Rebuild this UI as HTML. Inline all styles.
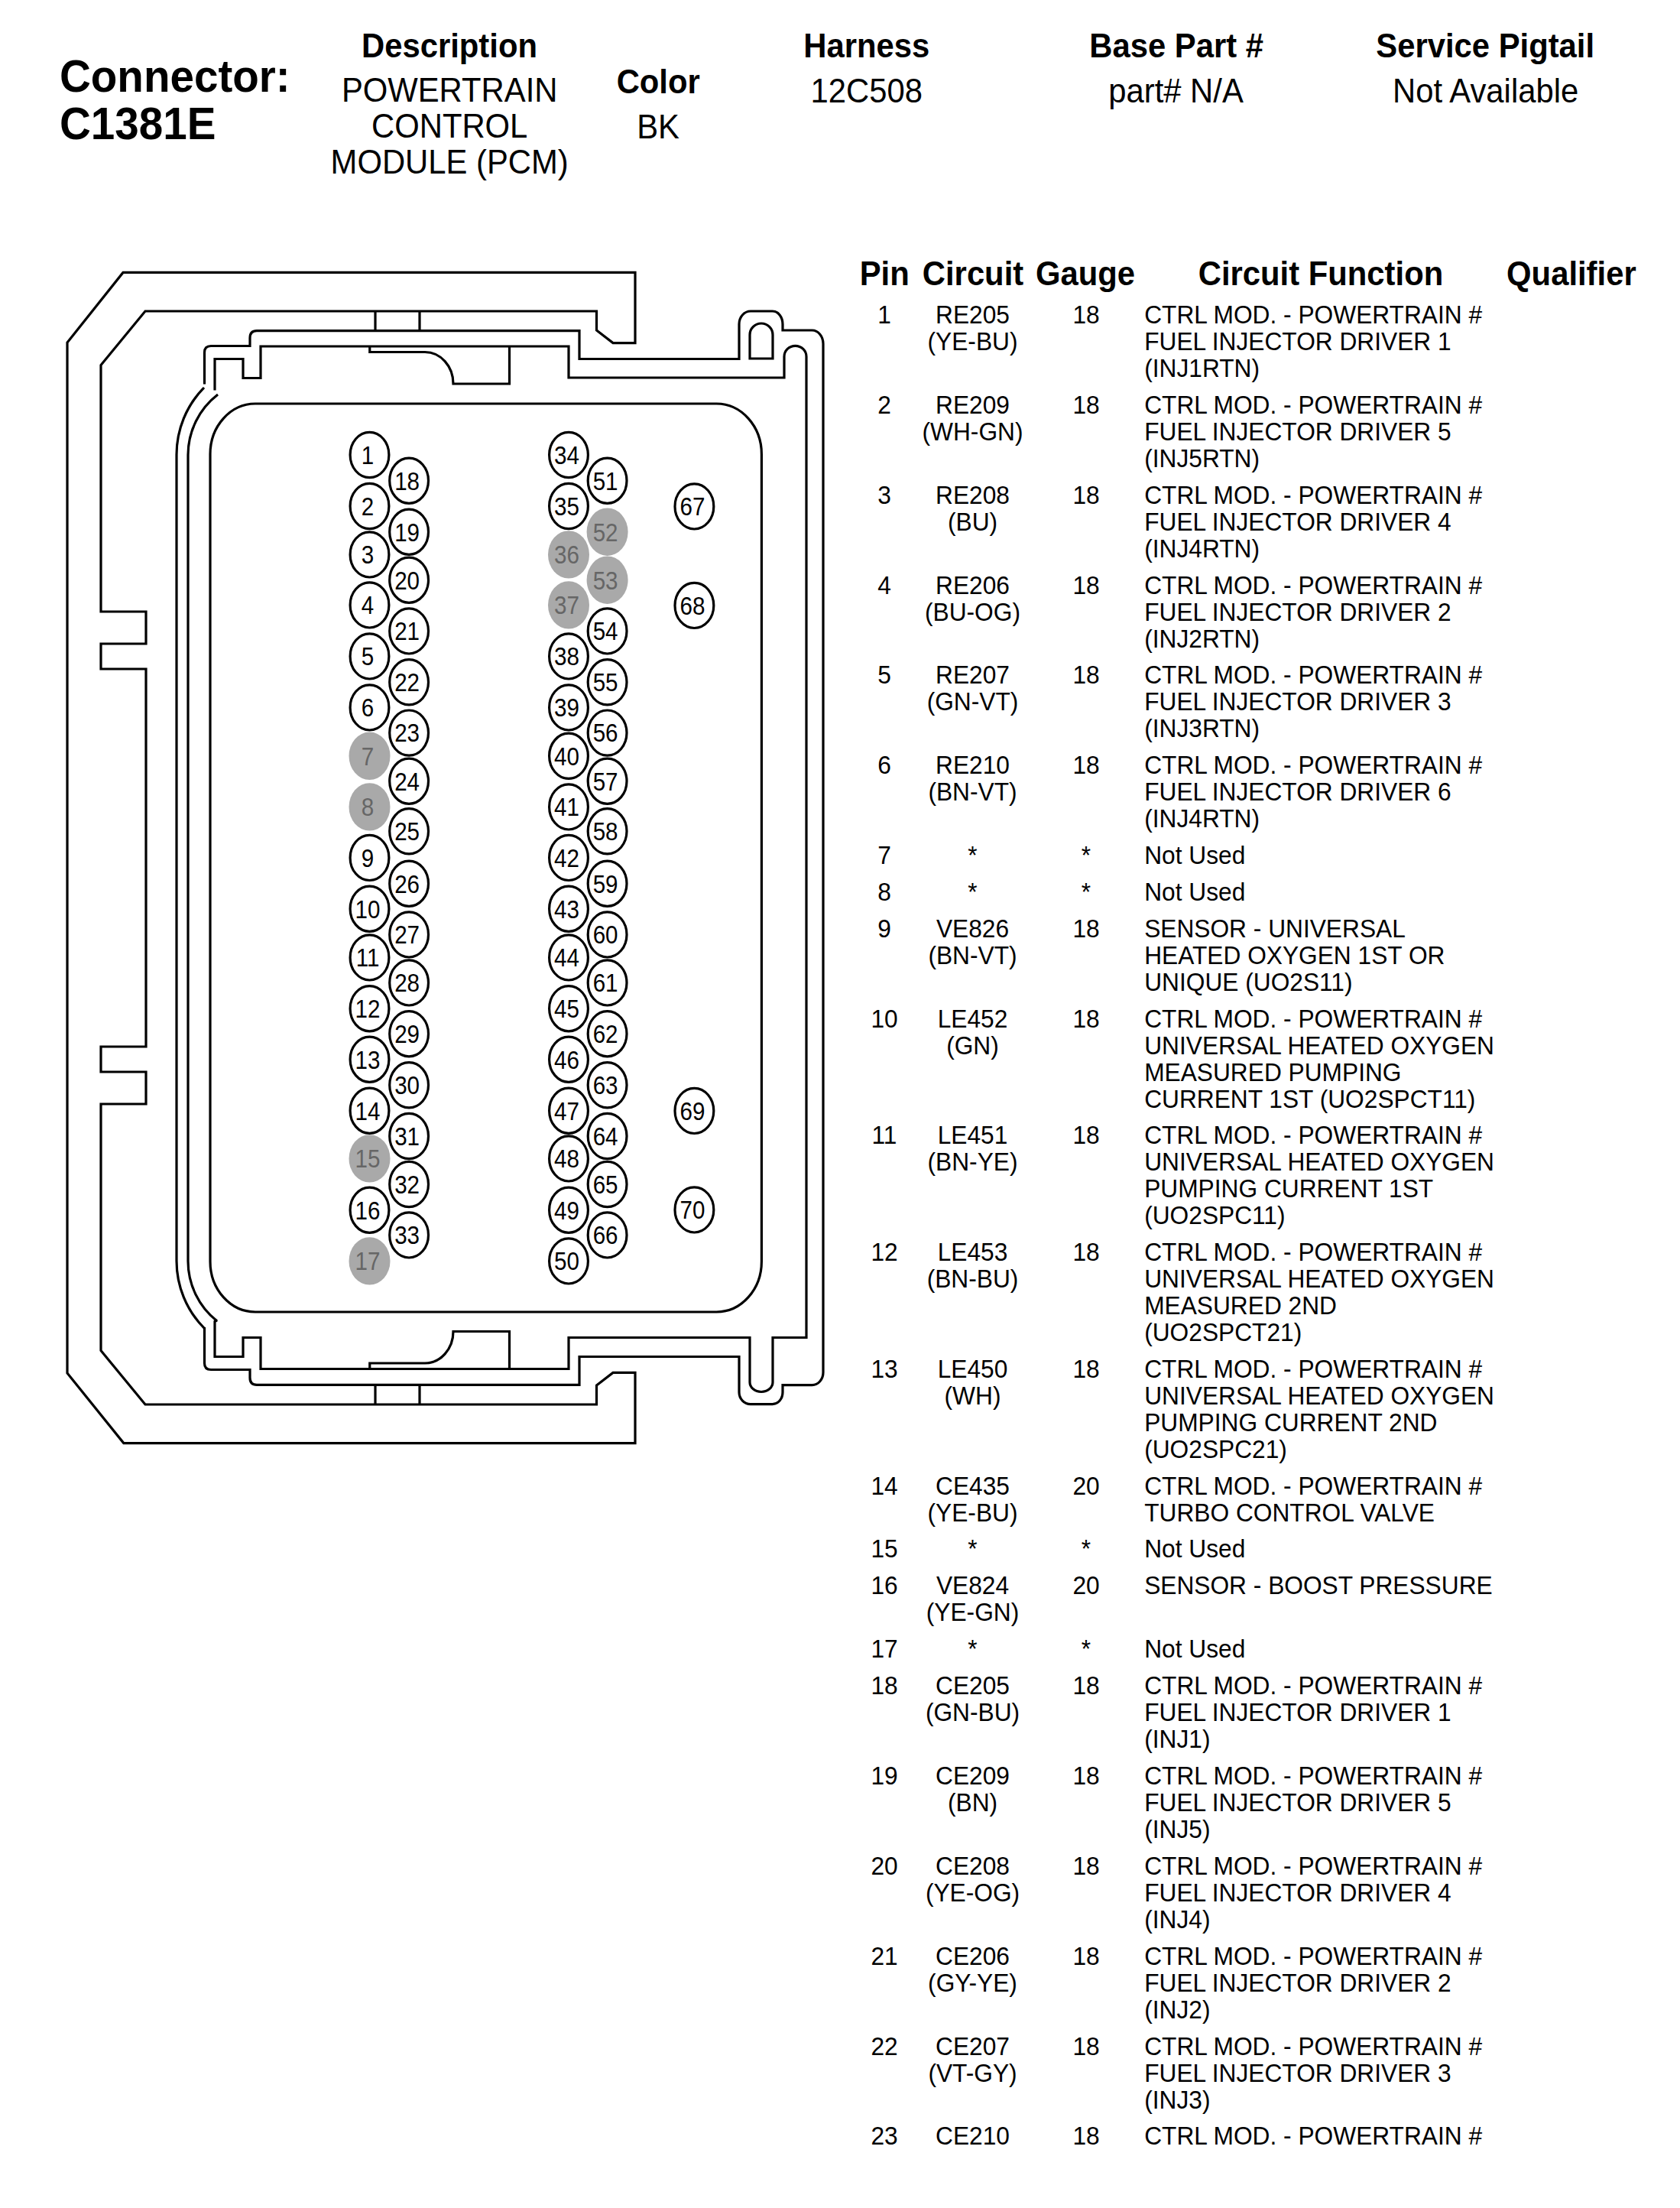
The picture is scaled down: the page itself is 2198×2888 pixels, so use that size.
<!DOCTYPE html>
<html><head><meta charset="utf-8"><title>C1381E</title>
<style>
html,body{margin:0;padding:0;background:#fff;}
body{width:2198px;height:2888px;position:relative;overflow:hidden;font-family:"Liberation Sans",sans-serif;color:#000;}
.t{position:absolute;white-space:nowrap;transform:scaleY(1.0405);transform-origin:0 0;}
.c{text-align:center;}
.b{font-weight:bold;}
svg{position:absolute;left:0;top:0;}
</style></head><body>

<div class="t b" style="left:77.9px;top:69.18px;font-size:56.6px;line-height:59.974px">Connector:<br>C1381E</div>
<div class="t c b" style="left:378.0px;top:37.85px;width:420px;font-size:41.8px;line-height:44.932px">Description</div>
<div class="t c" style="left:378.2px;top:96.45px;width:420px;font-size:41.8px;line-height:44.932px">POWERTRAIN<br>CONTROL<br>MODULE (PCM)</div>
<div class="t c b" style="left:761.2px;top:84.55px;width:200px;font-size:41.8px;line-height:44.932px">Color</div>
<div class="t c" style="left:761.1px;top:144.15px;width:200px;font-size:41.8px;line-height:44.932px">BK</div>
<div class="t c b" style="left:983.8px;top:37.95px;width:300px;font-size:41.8px;line-height:44.932px">Harness</div>
<div class="t c" style="left:983.7px;top:97.05px;width:300px;font-size:41.8px;line-height:44.932px">12C508</div>
<div class="t c b" style="left:1359.2px;top:37.95px;width:360px;font-size:41.8px;line-height:44.932px">Base Part #</div>
<div class="t c" style="left:1358.5px;top:97.05px;width:360px;font-size:41.8px;line-height:44.932px">part# N/A</div>
<div class="t c b" style="left:1743.2px;top:37.95px;width:400px;font-size:41.8px;line-height:44.932px">Service Pigtail</div>
<div class="t c" style="left:1743.6px;top:97.05px;width:400px;font-size:41.8px;line-height:44.932px">Not Available</div>
<div class="t c b" style="left:1097.2px;top:335.55px;width:120px;font-size:41.8px;line-height:44.932px">Pin</div>
<div class="t c b" style="left:1173.0px;top:335.55px;width:200px;font-size:41.8px;line-height:44.932px">Circuit</div>
<div class="t c b" style="left:1340.0px;top:335.55px;width:160px;font-size:41.8px;line-height:44.932px">Gauge</div>
<div class="t c b" style="left:1528.0px;top:335.55px;width:400px;font-size:41.8px;line-height:44.932px">Circuit Function</div>
<div class="t c b" style="left:1935.9px;top:335.55px;width:240px;font-size:41.8px;line-height:44.932px">Qualifier</div>
<div class="t c" style="left:1107.0px;top:395.12px;width:100px;font-size:31.7px;line-height:33.543px">1</div>
<div class="t c" style="left:1182.5px;top:395.12px;width:180px;font-size:31.7px;line-height:33.543px">RE205<br>(YE-BU)</div>
<div class="t c" style="left:1371.0px;top:395.12px;width:100px;font-size:31.7px;line-height:33.543px">18</div>
<div class="t" style="left:1497.2px;top:395.12px;font-size:31.7px;line-height:33.543px">CTRL MOD. - POWERTRAIN #<br>FUEL INJECTOR DRIVER 1<br>(INJ1RTN)</div>
<div class="t c" style="left:1107.0px;top:512.92px;width:100px;font-size:31.7px;line-height:33.543px">2</div>
<div class="t c" style="left:1182.5px;top:512.92px;width:180px;font-size:31.7px;line-height:33.543px">RE209<br>(WH-GN)</div>
<div class="t c" style="left:1371.0px;top:512.92px;width:100px;font-size:31.7px;line-height:33.543px">18</div>
<div class="t" style="left:1497.2px;top:512.92px;font-size:31.7px;line-height:33.543px">CTRL MOD. - POWERTRAIN #<br>FUEL INJECTOR DRIVER 5<br>(INJ5RTN)</div>
<div class="t c" style="left:1107.0px;top:630.72px;width:100px;font-size:31.7px;line-height:33.543px">3</div>
<div class="t c" style="left:1182.5px;top:630.72px;width:180px;font-size:31.7px;line-height:33.543px">RE208<br>(BU)</div>
<div class="t c" style="left:1371.0px;top:630.72px;width:100px;font-size:31.7px;line-height:33.543px">18</div>
<div class="t" style="left:1497.2px;top:630.72px;font-size:31.7px;line-height:33.543px">CTRL MOD. - POWERTRAIN #<br>FUEL INJECTOR DRIVER 4<br>(INJ4RTN)</div>
<div class="t c" style="left:1107.0px;top:748.52px;width:100px;font-size:31.7px;line-height:33.543px">4</div>
<div class="t c" style="left:1182.5px;top:748.52px;width:180px;font-size:31.7px;line-height:33.543px">RE206<br>(BU-OG)</div>
<div class="t c" style="left:1371.0px;top:748.52px;width:100px;font-size:31.7px;line-height:33.543px">18</div>
<div class="t" style="left:1497.2px;top:748.52px;font-size:31.7px;line-height:33.543px">CTRL MOD. - POWERTRAIN #<br>FUEL INJECTOR DRIVER 2<br>(INJ2RTN)</div>
<div class="t c" style="left:1107.0px;top:866.32px;width:100px;font-size:31.7px;line-height:33.543px">5</div>
<div class="t c" style="left:1182.5px;top:866.32px;width:180px;font-size:31.7px;line-height:33.543px">RE207<br>(GN-VT)</div>
<div class="t c" style="left:1371.0px;top:866.32px;width:100px;font-size:31.7px;line-height:33.543px">18</div>
<div class="t" style="left:1497.2px;top:866.32px;font-size:31.7px;line-height:33.543px">CTRL MOD. - POWERTRAIN #<br>FUEL INJECTOR DRIVER 3<br>(INJ3RTN)</div>
<div class="t c" style="left:1107.0px;top:984.12px;width:100px;font-size:31.7px;line-height:33.543px">6</div>
<div class="t c" style="left:1182.5px;top:984.12px;width:180px;font-size:31.7px;line-height:33.543px">RE210<br>(BN-VT)</div>
<div class="t c" style="left:1371.0px;top:984.12px;width:100px;font-size:31.7px;line-height:33.543px">18</div>
<div class="t" style="left:1497.2px;top:984.12px;font-size:31.7px;line-height:33.543px">CTRL MOD. - POWERTRAIN #<br>FUEL INJECTOR DRIVER 6<br>(INJ4RTN)</div>
<div class="t c" style="left:1107.0px;top:1101.92px;width:100px;font-size:31.7px;line-height:33.543px">7</div>
<div class="t c" style="left:1182.5px;top:1101.92px;width:180px;font-size:31.7px;line-height:33.543px">*</div>
<div class="t c" style="left:1371.0px;top:1101.92px;width:100px;font-size:31.7px;line-height:33.543px">*</div>
<div class="t" style="left:1497.2px;top:1101.92px;font-size:31.7px;line-height:33.543px">Not Used</div>
<div class="t c" style="left:1107.0px;top:1149.92px;width:100px;font-size:31.7px;line-height:33.543px">8</div>
<div class="t c" style="left:1182.5px;top:1149.92px;width:180px;font-size:31.7px;line-height:33.543px">*</div>
<div class="t c" style="left:1371.0px;top:1149.92px;width:100px;font-size:31.7px;line-height:33.543px">*</div>
<div class="t" style="left:1497.2px;top:1149.92px;font-size:31.7px;line-height:33.543px">Not Used</div>
<div class="t c" style="left:1107.0px;top:1197.92px;width:100px;font-size:31.7px;line-height:33.543px">9</div>
<div class="t c" style="left:1182.5px;top:1197.92px;width:180px;font-size:31.7px;line-height:33.543px">VE826<br>(BN-VT)</div>
<div class="t c" style="left:1371.0px;top:1197.92px;width:100px;font-size:31.7px;line-height:33.543px">18</div>
<div class="t" style="left:1497.2px;top:1197.92px;font-size:31.7px;line-height:33.543px">SENSOR - UNIVERSAL<br>HEATED OXYGEN 1ST OR<br>UNIQUE (UO2S11)</div>
<div class="t c" style="left:1107.0px;top:1315.72px;width:100px;font-size:31.7px;line-height:33.543px">10</div>
<div class="t c" style="left:1182.5px;top:1315.72px;width:180px;font-size:31.7px;line-height:33.543px">LE452<br>(GN)</div>
<div class="t c" style="left:1371.0px;top:1315.72px;width:100px;font-size:31.7px;line-height:33.543px">18</div>
<div class="t" style="left:1497.2px;top:1315.72px;font-size:31.7px;line-height:33.543px">CTRL MOD. - POWERTRAIN #<br>UNIVERSAL HEATED OXYGEN<br>MEASURED PUMPING<br>CURRENT 1ST (UO2SPCT11)</div>
<div class="t c" style="left:1107.0px;top:1468.42px;width:100px;font-size:31.7px;line-height:33.543px">11</div>
<div class="t c" style="left:1182.5px;top:1468.42px;width:180px;font-size:31.7px;line-height:33.543px">LE451<br>(BN-YE)</div>
<div class="t c" style="left:1371.0px;top:1468.42px;width:100px;font-size:31.7px;line-height:33.543px">18</div>
<div class="t" style="left:1497.2px;top:1468.42px;font-size:31.7px;line-height:33.543px">CTRL MOD. - POWERTRAIN #<br>UNIVERSAL HEATED OXYGEN<br>PUMPING CURRENT 1ST<br>(UO2SPC11)</div>
<div class="t c" style="left:1107.0px;top:1621.12px;width:100px;font-size:31.7px;line-height:33.543px">12</div>
<div class="t c" style="left:1182.5px;top:1621.12px;width:180px;font-size:31.7px;line-height:33.543px">LE453<br>(BN-BU)</div>
<div class="t c" style="left:1371.0px;top:1621.12px;width:100px;font-size:31.7px;line-height:33.543px">18</div>
<div class="t" style="left:1497.2px;top:1621.12px;font-size:31.7px;line-height:33.543px">CTRL MOD. - POWERTRAIN #<br>UNIVERSAL HEATED OXYGEN<br>MEASURED 2ND<br>(UO2SPCT21)</div>
<div class="t c" style="left:1107.0px;top:1773.82px;width:100px;font-size:31.7px;line-height:33.543px">13</div>
<div class="t c" style="left:1182.5px;top:1773.82px;width:180px;font-size:31.7px;line-height:33.543px">LE450<br>(WH)</div>
<div class="t c" style="left:1371.0px;top:1773.82px;width:100px;font-size:31.7px;line-height:33.543px">18</div>
<div class="t" style="left:1497.2px;top:1773.82px;font-size:31.7px;line-height:33.543px">CTRL MOD. - POWERTRAIN #<br>UNIVERSAL HEATED OXYGEN<br>PUMPING CURRENT 2ND<br>(UO2SPC21)</div>
<div class="t c" style="left:1107.0px;top:1926.52px;width:100px;font-size:31.7px;line-height:33.543px">14</div>
<div class="t c" style="left:1182.5px;top:1926.52px;width:180px;font-size:31.7px;line-height:33.543px">CE435<br>(YE-BU)</div>
<div class="t c" style="left:1371.0px;top:1926.52px;width:100px;font-size:31.7px;line-height:33.543px">20</div>
<div class="t" style="left:1497.2px;top:1926.52px;font-size:31.7px;line-height:33.543px">CTRL MOD. - POWERTRAIN #<br>TURBO CONTROL VALVE</div>
<div class="t c" style="left:1107.0px;top:2009.42px;width:100px;font-size:31.7px;line-height:33.543px">15</div>
<div class="t c" style="left:1182.5px;top:2009.42px;width:180px;font-size:31.7px;line-height:33.543px">*</div>
<div class="t c" style="left:1371.0px;top:2009.42px;width:100px;font-size:31.7px;line-height:33.543px">*</div>
<div class="t" style="left:1497.2px;top:2009.42px;font-size:31.7px;line-height:33.543px">Not Used</div>
<div class="t c" style="left:1107.0px;top:2057.42px;width:100px;font-size:31.7px;line-height:33.543px">16</div>
<div class="t c" style="left:1182.5px;top:2057.42px;width:180px;font-size:31.7px;line-height:33.543px">VE824<br>(YE-GN)</div>
<div class="t c" style="left:1371.0px;top:2057.42px;width:100px;font-size:31.7px;line-height:33.543px">20</div>
<div class="t" style="left:1497.2px;top:2057.42px;font-size:31.7px;line-height:33.543px">SENSOR - BOOST PRESSURE</div>
<div class="t c" style="left:1107.0px;top:2140.32px;width:100px;font-size:31.7px;line-height:33.543px">17</div>
<div class="t c" style="left:1182.5px;top:2140.32px;width:180px;font-size:31.7px;line-height:33.543px">*</div>
<div class="t c" style="left:1371.0px;top:2140.32px;width:100px;font-size:31.7px;line-height:33.543px">*</div>
<div class="t" style="left:1497.2px;top:2140.32px;font-size:31.7px;line-height:33.543px">Not Used</div>
<div class="t c" style="left:1107.0px;top:2188.32px;width:100px;font-size:31.7px;line-height:33.543px">18</div>
<div class="t c" style="left:1182.5px;top:2188.32px;width:180px;font-size:31.7px;line-height:33.543px">CE205<br>(GN-BU)</div>
<div class="t c" style="left:1371.0px;top:2188.32px;width:100px;font-size:31.7px;line-height:33.543px">18</div>
<div class="t" style="left:1497.2px;top:2188.32px;font-size:31.7px;line-height:33.543px">CTRL MOD. - POWERTRAIN #<br>FUEL INJECTOR DRIVER 1<br>(INJ1)</div>
<div class="t c" style="left:1107.0px;top:2306.12px;width:100px;font-size:31.7px;line-height:33.543px">19</div>
<div class="t c" style="left:1182.5px;top:2306.12px;width:180px;font-size:31.7px;line-height:33.543px">CE209<br>(BN)</div>
<div class="t c" style="left:1371.0px;top:2306.12px;width:100px;font-size:31.7px;line-height:33.543px">18</div>
<div class="t" style="left:1497.2px;top:2306.12px;font-size:31.7px;line-height:33.543px">CTRL MOD. - POWERTRAIN #<br>FUEL INJECTOR DRIVER 5<br>(INJ5)</div>
<div class="t c" style="left:1107.0px;top:2423.92px;width:100px;font-size:31.7px;line-height:33.543px">20</div>
<div class="t c" style="left:1182.5px;top:2423.92px;width:180px;font-size:31.7px;line-height:33.543px">CE208<br>(YE-OG)</div>
<div class="t c" style="left:1371.0px;top:2423.92px;width:100px;font-size:31.7px;line-height:33.543px">18</div>
<div class="t" style="left:1497.2px;top:2423.92px;font-size:31.7px;line-height:33.543px">CTRL MOD. - POWERTRAIN #<br>FUEL INJECTOR DRIVER 4<br>(INJ4)</div>
<div class="t c" style="left:1107.0px;top:2541.72px;width:100px;font-size:31.7px;line-height:33.543px">21</div>
<div class="t c" style="left:1182.5px;top:2541.72px;width:180px;font-size:31.7px;line-height:33.543px">CE206<br>(GY-YE)</div>
<div class="t c" style="left:1371.0px;top:2541.72px;width:100px;font-size:31.7px;line-height:33.543px">18</div>
<div class="t" style="left:1497.2px;top:2541.72px;font-size:31.7px;line-height:33.543px">CTRL MOD. - POWERTRAIN #<br>FUEL INJECTOR DRIVER 2<br>(INJ2)</div>
<div class="t c" style="left:1107.0px;top:2659.52px;width:100px;font-size:31.7px;line-height:33.543px">22</div>
<div class="t c" style="left:1182.5px;top:2659.52px;width:180px;font-size:31.7px;line-height:33.543px">CE207<br>(VT-GY)</div>
<div class="t c" style="left:1371.0px;top:2659.52px;width:100px;font-size:31.7px;line-height:33.543px">18</div>
<div class="t" style="left:1497.2px;top:2659.52px;font-size:31.7px;line-height:33.543px">CTRL MOD. - POWERTRAIN #<br>FUEL INJECTOR DRIVER 3<br>(INJ3)</div>
<div class="t c" style="left:1107.0px;top:2777.32px;width:100px;font-size:31.7px;line-height:33.543px">23</div>
<div class="t c" style="left:1182.5px;top:2777.32px;width:180px;font-size:31.7px;line-height:33.543px">CE210</div>
<div class="t c" style="left:1371.0px;top:2777.32px;width:100px;font-size:31.7px;line-height:33.543px">18</div>
<div class="t" style="left:1497.2px;top:2777.32px;font-size:31.7px;line-height:33.543px">CTRL MOD. - POWERTRAIN #</div>
<svg width="2198" height="2888" viewBox="0 0 2198 2888">
<g fill="none" stroke="#000" stroke-width="3.2" stroke-linejoin="miter" stroke-miterlimit="10">
<path d="M831,448.6 L831,356.4 L161,356.4 L88,448 L88,1796 L161.8,1887.6 L831,1887.6 L831,1795.4 L802,1795.4 L780.5,1812 L780.5,1837 L190,1837 L132,1766.5 L132,1444 L191,1444 L191,1402 L132,1402 L132,1369 L191,1369 L191,875 L132,875 L132,842 L191,842 L191,800 L132,800 L132,477.5 L190,407 L780.5,407 L780.5,432 L802,448.6 Z" />
<path d="M491,407 L491,432.3 M549,407 L549,432.3 M491,1811.7 L491,1837 M549,1811.7 L549,1837" />
<path d="M267.5,502.5 L267.5,461 Q267.5,452.5 276,452.5 L327,452.5 L327,442 Q327,432.6 336,432.6 L758,432.6 L758,469.5 L967,469.5 L967,424 A15,17 0 0 1 982,407 L1010.7,407 A13.3,17 0 0 1 1024,424 L1024,432 L1062.5,432 A14.5,17.6 0 0 1 1077,449.6 L1077,1795 A14.5,16.6 0 0 1 1062.5,1811.6 L1024,1811.6 L1024,1821 A13.3,15.6 0 0 1 1010.7,1836.6 L982,1836.6 A15,15.6 0 0 1 967,1821 L967,1774.5 L758,1774.5 L758,1811.4 L336,1811.4 Q327,1811.4 327,1802 L327,1791.5 L276,1791.5 Q267.5,1791.5 267.5,1783 L267.5,1736" />
<path d="M281,510.5 L281,469.5 L318,469.5 L318,494.5 L341,494.5 L341,453 L744,453 L744,494 L1026,494 L1026,466.5 A14.5,14.2 0 0 1 1055,466.5 L1055,1749.5 L1011,1749.5 L1011,1808 A15,12.5 0 0 1 981,1808 L981,1749.5 L744,1749.5 L744,1790.5 L341,1790.5 L341,1749.5 L318,1749.5 L318,1774.5 L281,1774.5 L281,1728.5 L284,1726.8" />
<path d="M483.75,453 L483.75,460.5 L556,460.5 A37,41.5 0 0 1 593,502 L666.5,502 L666.5,453" />
<path d="M483.75,1790.5 L483.75,1783 L556,1783 A37,41.5 0 0 0 593,1741.5 L666.5,1741.5 L666.5,1790.5" />
<path d="M267,507 A125,125 0 0 0 231,595 L231,1649 A125,125 0 0 0 267,1737" />
<path d="M285,516 A100,100 0 0 0 246,595 L246,1649 A100,100 0 0 0 284,1728" />
<rect x="275" y="528" width="721.4" height="1188" rx="59" ry="66"/>
<path d="M981,469 L981,438 A15,15 0 0 1 1011,438 L1011,469 Z" />
</g>
<ellipse cx="483.5" cy="595.0" rx="25.4" ry="29.6" fill="#fff" stroke="#000" stroke-width="3.2"/>
<ellipse cx="483.5" cy="662.0" rx="25.4" ry="29.6" fill="#fff" stroke="#000" stroke-width="3.2"/>
<ellipse cx="483.5" cy="725.4" rx="25.4" ry="29.6" fill="#fff" stroke="#000" stroke-width="3.2"/>
<ellipse cx="483.5" cy="791.4" rx="25.4" ry="29.6" fill="#fff" stroke="#000" stroke-width="3.2"/>
<ellipse cx="483.5" cy="858.4" rx="25.4" ry="29.6" fill="#fff" stroke="#000" stroke-width="3.2"/>
<ellipse cx="483.5" cy="925.4" rx="25.4" ry="29.6" fill="#fff" stroke="#000" stroke-width="3.2"/>
<ellipse cx="483.5" cy="988.8" rx="27.0" ry="31.2" fill="#a9a9a9" stroke="none"/>
<ellipse cx="483.5" cy="1055.4" rx="27.0" ry="31.2" fill="#a9a9a9" stroke="none"/>
<ellipse cx="483.5" cy="1121.9" rx="25.4" ry="29.6" fill="#fff" stroke="#000" stroke-width="3.2"/>
<ellipse cx="483.5" cy="1188.7" rx="25.4" ry="29.6" fill="#fff" stroke="#000" stroke-width="3.2"/>
<ellipse cx="483.5" cy="1252.4" rx="25.4" ry="29.6" fill="#fff" stroke="#000" stroke-width="3.2"/>
<ellipse cx="483.5" cy="1319.2" rx="25.4" ry="29.6" fill="#fff" stroke="#000" stroke-width="3.2"/>
<ellipse cx="483.5" cy="1385.7" rx="25.4" ry="29.6" fill="#fff" stroke="#000" stroke-width="3.2"/>
<ellipse cx="483.5" cy="1452.7" rx="25.4" ry="29.6" fill="#fff" stroke="#000" stroke-width="3.2"/>
<ellipse cx="483.5" cy="1515.4" rx="27.0" ry="31.2" fill="#a9a9a9" stroke="none"/>
<ellipse cx="483.5" cy="1582.7" rx="25.4" ry="29.6" fill="#fff" stroke="#000" stroke-width="3.2"/>
<ellipse cx="483.5" cy="1649.4" rx="27.0" ry="31.2" fill="#a9a9a9" stroke="none"/>
<ellipse cx="535.1" cy="628.7" rx="25.4" ry="29.6" fill="#fff" stroke="#000" stroke-width="3.2"/>
<ellipse cx="535.1" cy="695.7" rx="25.4" ry="29.6" fill="#fff" stroke="#000" stroke-width="3.2"/>
<ellipse cx="535.1" cy="758.7" rx="25.4" ry="29.6" fill="#fff" stroke="#000" stroke-width="3.2"/>
<ellipse cx="535.1" cy="825.4" rx="25.4" ry="29.6" fill="#fff" stroke="#000" stroke-width="3.2"/>
<ellipse cx="535.1" cy="892.3" rx="25.4" ry="29.6" fill="#fff" stroke="#000" stroke-width="3.2"/>
<ellipse cx="535.1" cy="958.6" rx="25.4" ry="29.6" fill="#fff" stroke="#000" stroke-width="3.2"/>
<ellipse cx="535.1" cy="1021.7" rx="25.4" ry="29.6" fill="#fff" stroke="#000" stroke-width="3.2"/>
<ellipse cx="535.1" cy="1087.3" rx="25.4" ry="29.6" fill="#fff" stroke="#000" stroke-width="3.2"/>
<ellipse cx="535.1" cy="1155.7" rx="25.4" ry="29.6" fill="#fff" stroke="#000" stroke-width="3.2"/>
<ellipse cx="535.1" cy="1222.4" rx="25.4" ry="29.6" fill="#fff" stroke="#000" stroke-width="3.2"/>
<ellipse cx="535.1" cy="1285.4" rx="25.4" ry="29.6" fill="#fff" stroke="#000" stroke-width="3.2"/>
<ellipse cx="535.1" cy="1352.2" rx="25.4" ry="29.6" fill="#fff" stroke="#000" stroke-width="3.2"/>
<ellipse cx="535.1" cy="1419.3" rx="25.4" ry="29.6" fill="#fff" stroke="#000" stroke-width="3.2"/>
<ellipse cx="535.1" cy="1486.0" rx="25.4" ry="29.6" fill="#fff" stroke="#000" stroke-width="3.2"/>
<ellipse cx="535.1" cy="1549.0" rx="25.4" ry="29.6" fill="#fff" stroke="#000" stroke-width="3.2"/>
<ellipse cx="535.1" cy="1615.4" rx="25.4" ry="29.6" fill="#fff" stroke="#000" stroke-width="3.2"/>
<ellipse cx="744.0" cy="595.0" rx="25.4" ry="29.6" fill="#fff" stroke="#000" stroke-width="3.2"/>
<ellipse cx="744.0" cy="662.0" rx="25.4" ry="29.6" fill="#fff" stroke="#000" stroke-width="3.2"/>
<ellipse cx="744.0" cy="725.4" rx="27.0" ry="31.2" fill="#a9a9a9" stroke="none"/>
<ellipse cx="744.0" cy="791.4" rx="27.0" ry="31.2" fill="#a9a9a9" stroke="none"/>
<ellipse cx="744.0" cy="858.4" rx="25.4" ry="29.6" fill="#fff" stroke="#000" stroke-width="3.2"/>
<ellipse cx="744.0" cy="925.4" rx="25.4" ry="29.6" fill="#fff" stroke="#000" stroke-width="3.2"/>
<ellipse cx="744.0" cy="988.8" rx="25.4" ry="29.6" fill="#fff" stroke="#000" stroke-width="3.2"/>
<ellipse cx="744.0" cy="1055.4" rx="25.4" ry="29.6" fill="#fff" stroke="#000" stroke-width="3.2"/>
<ellipse cx="744.0" cy="1121.9" rx="25.4" ry="29.6" fill="#fff" stroke="#000" stroke-width="3.2"/>
<ellipse cx="744.0" cy="1188.7" rx="25.4" ry="29.6" fill="#fff" stroke="#000" stroke-width="3.2"/>
<ellipse cx="744.0" cy="1252.4" rx="25.4" ry="29.6" fill="#fff" stroke="#000" stroke-width="3.2"/>
<ellipse cx="744.0" cy="1319.2" rx="25.4" ry="29.6" fill="#fff" stroke="#000" stroke-width="3.2"/>
<ellipse cx="744.0" cy="1385.7" rx="25.4" ry="29.6" fill="#fff" stroke="#000" stroke-width="3.2"/>
<ellipse cx="744.0" cy="1452.7" rx="25.4" ry="29.6" fill="#fff" stroke="#000" stroke-width="3.2"/>
<ellipse cx="744.0" cy="1515.4" rx="25.4" ry="29.6" fill="#fff" stroke="#000" stroke-width="3.2"/>
<ellipse cx="744.0" cy="1582.7" rx="25.4" ry="29.6" fill="#fff" stroke="#000" stroke-width="3.2"/>
<ellipse cx="744.0" cy="1649.4" rx="25.4" ry="29.6" fill="#fff" stroke="#000" stroke-width="3.2"/>
<ellipse cx="794.6" cy="628.7" rx="25.4" ry="29.6" fill="#fff" stroke="#000" stroke-width="3.2"/>
<ellipse cx="794.6" cy="695.7" rx="27.0" ry="31.2" fill="#a9a9a9" stroke="none"/>
<ellipse cx="794.6" cy="758.7" rx="27.0" ry="31.2" fill="#a9a9a9" stroke="none"/>
<ellipse cx="794.6" cy="825.4" rx="25.4" ry="29.6" fill="#fff" stroke="#000" stroke-width="3.2"/>
<ellipse cx="794.6" cy="892.3" rx="25.4" ry="29.6" fill="#fff" stroke="#000" stroke-width="3.2"/>
<ellipse cx="794.6" cy="958.6" rx="25.4" ry="29.6" fill="#fff" stroke="#000" stroke-width="3.2"/>
<ellipse cx="794.6" cy="1021.7" rx="25.4" ry="29.6" fill="#fff" stroke="#000" stroke-width="3.2"/>
<ellipse cx="794.6" cy="1087.3" rx="25.4" ry="29.6" fill="#fff" stroke="#000" stroke-width="3.2"/>
<ellipse cx="794.6" cy="1155.7" rx="25.4" ry="29.6" fill="#fff" stroke="#000" stroke-width="3.2"/>
<ellipse cx="794.6" cy="1222.4" rx="25.4" ry="29.6" fill="#fff" stroke="#000" stroke-width="3.2"/>
<ellipse cx="794.6" cy="1285.4" rx="25.4" ry="29.6" fill="#fff" stroke="#000" stroke-width="3.2"/>
<ellipse cx="794.6" cy="1352.2" rx="25.4" ry="29.6" fill="#fff" stroke="#000" stroke-width="3.2"/>
<ellipse cx="794.6" cy="1419.3" rx="25.4" ry="29.6" fill="#fff" stroke="#000" stroke-width="3.2"/>
<ellipse cx="794.6" cy="1486.0" rx="25.4" ry="29.6" fill="#fff" stroke="#000" stroke-width="3.2"/>
<ellipse cx="794.6" cy="1549.0" rx="25.4" ry="29.6" fill="#fff" stroke="#000" stroke-width="3.2"/>
<ellipse cx="794.6" cy="1615.4" rx="25.4" ry="29.6" fill="#fff" stroke="#000" stroke-width="3.2"/>
<ellipse cx="908.4" cy="662.4" rx="25.4" ry="29.6" fill="#fff" stroke="#000" stroke-width="3.2"/>
<ellipse cx="908.4" cy="791.9" rx="25.4" ry="29.6" fill="#fff" stroke="#000" stroke-width="3.2"/>
<ellipse cx="908.4" cy="1452.9" rx="25.4" ry="29.6" fill="#fff" stroke="#000" stroke-width="3.2"/>
<ellipse cx="908.4" cy="1582.4" rx="25.4" ry="29.6" fill="#fff" stroke="#000" stroke-width="3.2"/>
<g font-family="Liberation Sans, sans-serif" font-size="34.0" text-anchor="middle">
<text x="552.87" y="606.90" fill="#000" transform="scale(0.870,1)">1</text>
<text x="552.87" y="673.90" fill="#000" transform="scale(0.870,1)">2</text>
<text x="552.87" y="737.30" fill="#000" transform="scale(0.870,1)">3</text>
<text x="552.87" y="803.30" fill="#000" transform="scale(0.870,1)">4</text>
<text x="552.87" y="870.30" fill="#000" transform="scale(0.870,1)">5</text>
<text x="552.87" y="937.30" fill="#000" transform="scale(0.870,1)">6</text>
<text x="552.87" y="1000.70" fill="#666666" transform="scale(0.870,1)">7</text>
<text x="552.87" y="1067.30" fill="#666666" transform="scale(0.870,1)">8</text>
<text x="552.87" y="1133.80" fill="#000" transform="scale(0.870,1)">9</text>
<text x="552.87" y="1200.60" fill="#000" transform="scale(0.870,1)">10</text>
<text x="552.87" y="1264.30" fill="#000" transform="scale(0.870,1)">11</text>
<text x="552.87" y="1331.05" fill="#000" transform="scale(0.870,1)">12</text>
<text x="552.87" y="1397.60" fill="#000" transform="scale(0.870,1)">13</text>
<text x="552.87" y="1464.60" fill="#000" transform="scale(0.870,1)">14</text>
<text x="552.87" y="1527.30" fill="#666666" transform="scale(0.870,1)">15</text>
<text x="552.87" y="1594.60" fill="#000" transform="scale(0.870,1)">16</text>
<text x="552.87" y="1661.30" fill="#666666" transform="scale(0.870,1)">17</text>
<text x="612.18" y="640.60" fill="#000" transform="scale(0.870,1)">18</text>
<text x="612.18" y="707.60" fill="#000" transform="scale(0.870,1)">19</text>
<text x="612.18" y="770.60" fill="#000" transform="scale(0.870,1)">20</text>
<text x="612.18" y="837.30" fill="#000" transform="scale(0.870,1)">21</text>
<text x="612.18" y="904.20" fill="#000" transform="scale(0.870,1)">22</text>
<text x="612.18" y="970.50" fill="#000" transform="scale(0.870,1)">23</text>
<text x="612.18" y="1033.60" fill="#000" transform="scale(0.870,1)">24</text>
<text x="612.18" y="1099.20" fill="#000" transform="scale(0.870,1)">25</text>
<text x="612.18" y="1167.60" fill="#000" transform="scale(0.870,1)">26</text>
<text x="612.18" y="1234.30" fill="#000" transform="scale(0.870,1)">27</text>
<text x="612.18" y="1297.30" fill="#000" transform="scale(0.870,1)">28</text>
<text x="612.18" y="1364.10" fill="#000" transform="scale(0.870,1)">29</text>
<text x="612.18" y="1431.20" fill="#000" transform="scale(0.870,1)">30</text>
<text x="612.18" y="1497.90" fill="#000" transform="scale(0.870,1)">31</text>
<text x="612.18" y="1560.90" fill="#000" transform="scale(0.870,1)">32</text>
<text x="612.18" y="1627.30" fill="#000" transform="scale(0.870,1)">33</text>
<text x="852.30" y="606.90" fill="#000" transform="scale(0.870,1)">34</text>
<text x="852.30" y="673.90" fill="#000" transform="scale(0.870,1)">35</text>
<text x="852.30" y="737.30" fill="#666666" transform="scale(0.870,1)">36</text>
<text x="852.30" y="803.30" fill="#666666" transform="scale(0.870,1)">37</text>
<text x="852.30" y="870.30" fill="#000" transform="scale(0.870,1)">38</text>
<text x="852.30" y="937.30" fill="#000" transform="scale(0.870,1)">39</text>
<text x="852.30" y="1000.70" fill="#000" transform="scale(0.870,1)">40</text>
<text x="852.30" y="1067.30" fill="#000" transform="scale(0.870,1)">41</text>
<text x="852.30" y="1133.80" fill="#000" transform="scale(0.870,1)">42</text>
<text x="852.30" y="1200.60" fill="#000" transform="scale(0.870,1)">43</text>
<text x="852.30" y="1264.30" fill="#000" transform="scale(0.870,1)">44</text>
<text x="852.30" y="1331.05" fill="#000" transform="scale(0.870,1)">45</text>
<text x="852.30" y="1397.60" fill="#000" transform="scale(0.870,1)">46</text>
<text x="852.30" y="1464.60" fill="#000" transform="scale(0.870,1)">47</text>
<text x="852.30" y="1527.30" fill="#000" transform="scale(0.870,1)">48</text>
<text x="852.30" y="1594.60" fill="#000" transform="scale(0.870,1)">49</text>
<text x="852.30" y="1661.30" fill="#000" transform="scale(0.870,1)">50</text>
<text x="910.46" y="640.60" fill="#000" transform="scale(0.870,1)">51</text>
<text x="910.46" y="707.60" fill="#666666" transform="scale(0.870,1)">52</text>
<text x="910.46" y="770.60" fill="#666666" transform="scale(0.870,1)">53</text>
<text x="910.46" y="837.30" fill="#000" transform="scale(0.870,1)">54</text>
<text x="910.46" y="904.20" fill="#000" transform="scale(0.870,1)">55</text>
<text x="910.46" y="970.50" fill="#000" transform="scale(0.870,1)">56</text>
<text x="910.46" y="1033.60" fill="#000" transform="scale(0.870,1)">57</text>
<text x="910.46" y="1099.20" fill="#000" transform="scale(0.870,1)">58</text>
<text x="910.46" y="1167.60" fill="#000" transform="scale(0.870,1)">59</text>
<text x="910.46" y="1234.30" fill="#000" transform="scale(0.870,1)">60</text>
<text x="910.46" y="1297.30" fill="#000" transform="scale(0.870,1)">61</text>
<text x="910.46" y="1364.10" fill="#000" transform="scale(0.870,1)">62</text>
<text x="910.46" y="1431.20" fill="#000" transform="scale(0.870,1)">63</text>
<text x="910.46" y="1497.90" fill="#000" transform="scale(0.870,1)">64</text>
<text x="910.46" y="1560.90" fill="#000" transform="scale(0.870,1)">65</text>
<text x="910.46" y="1627.30" fill="#000" transform="scale(0.870,1)">66</text>
<text x="1041.26" y="674.30" fill="#000" transform="scale(0.870,1)">67</text>
<text x="1041.26" y="803.80" fill="#000" transform="scale(0.870,1)">68</text>
<text x="1041.26" y="1464.80" fill="#000" transform="scale(0.870,1)">69</text>
<text x="1041.26" y="1594.30" fill="#000" transform="scale(0.870,1)">70</text>
</g></svg>
</body></html>
